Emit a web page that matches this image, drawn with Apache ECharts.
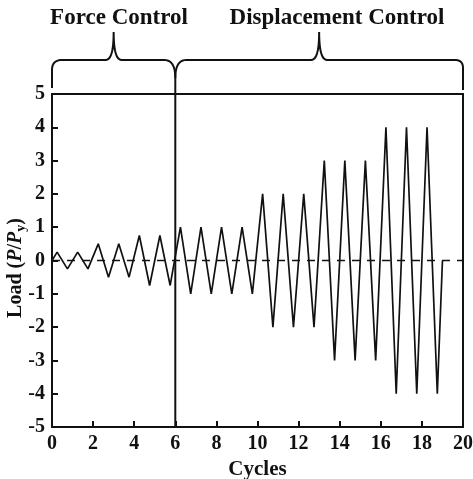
<!DOCTYPE html>
<html>
<head>
<meta charset="utf-8">
<script src="https://cdn.jsdelivr.net/npm/echarts@6/dist/echarts.min.js"></script>
<style>
  html, body { margin: 0; padding: 0; background: #fff; }
  #chart { width: 473px; height: 479px; }
</style>
</head>
<body>
<div id="chart"></div>
<script>
// Loading protocol: peak / trough times (in cycles) and normalised load P/Py
var cycleTimes = [0,
  0.25, 0.75, 1.25, 1.75,
  2.25, 2.75, 3.25, 3.75,
  4.25, 4.75, 5.25, 5.75,
  6.25, 6.75, 7.25, 7.75, 8.25, 8.75, 9.25, 9.75,
  10.25, 10.75, 11.25, 11.75, 12.25, 12.75,
  13.25, 13.75, 14.25, 14.75, 15.25, 15.75,
  16.25, 16.75, 17.25, 17.75, 18.25, 18.75,
  19];
var loadRatio = [0,
  0.25, -0.25, 0.25, -0.25,
  0.5, -0.5, 0.5, -0.5,
  0.75, -0.75, 0.75, -0.75,
  1, -1, 1, -1, 1, -1, 1, -1,
  2, -2, 2, -2, 2, -2,
  3, -3, 3, -3, 3, -3,
  4, -4, 4, -4, 4, -4,
  0];

// Zero-load reference line and the force/displacement phase divider
var zeroLine = [[0, 0], [20, 0]];
var dividerLine = [[6, -5], [6, 5]];

// Phase boundaries (cycles) and their titles
var phaseBounds = [0, 6, 20];
var phaseNames = ['Force Control', 'Displacement Control'];

var xTicks = { min: 0, max: 20, interval: 2 };
var yTicks = { min: -5, max: 5, interval: 1 };

var FONT = '"Liberation Serif", "Times New Roman", serif';
var INK = '#111';

var chart = echarts.init(document.getElementById('chart'), null, { renderer: 'canvas' });

var pts = cycleTimes.map(function (t, i) { return [t, loadRatio[i]]; });

chart.setOption({
  animation: false,
  backgroundColor: '#fff',
  grid: {
    left: 52, right: 10, top: 94, bottom: 52,
    outerBoundsMode: 'none', containLabel: false,
    show: true, borderColor: INK, borderWidth: 2, backgroundColor: 'transparent'
  },
  xAxis: {
    type: 'value', min: xTicks.min, max: xTicks.max, interval: xTicks.interval,
    name: 'Cycles', nameLocation: 'middle', nameGap: 25,
    nameTextStyle: { fontFamily: FONT, fontWeight: 'bold', fontSize: 21, color: INK },
    axisLine: { show: true, onZero: false, lineStyle: { color: INK, width: 2 } },
    axisTick: { show: true, inside: true, length: 6, lineStyle: { color: INK, width: 2 } },
    axisLabel: { fontFamily: FONT, fontWeight: 'bold', fontSize: 20, color: INK, margin: 7 },
    splitLine: { show: false }
  },
  yAxis: {
    type: 'value', min: yTicks.min, max: yTicks.max, interval: yTicks.interval,
    axisLine: { show: true, onZero: false, lineStyle: { color: INK, width: 2 } },
    axisTick: { show: true, inside: true, length: 6, lineStyle: { color: INK, width: 2 } },
    axisLabel: { fontFamily: FONT, fontWeight: 'bold', fontSize: 20, color: INK, margin: 7 },
    splitLine: { show: false }
  },
  series: [
    {
      type: 'line', data: zeroLine, showSymbol: false, silent: true, z: 2,
      lineStyle: { color: INK, width: 1.6, type: [8, 7] }
    },
    {
      type: 'line', data: dividerLine, showSymbol: false, silent: true, z: 2,
      lineStyle: { color: INK, width: 2, type: 'solid' }
    },
    {
      type: 'line', data: pts, showSymbol: false, z: 3,
      lineStyle: { color: INK, width: 1.7 }
    }
  ]
});

// Curly braces over each loading phase, plus the phase titles
function px(x) { return chart.convertToPixel({ xAxisIndex: 0 }, x); }
function quad(p0, c, p1, out) {
  for (var k = 1; k <= 12; k++) {
    var t = k / 12, u = 1 - t;
    out.push([u * u * p0[0] + 2 * u * t * c[0] + t * t * p1[0],
              u * u * p0[1] + 2 * u * t * c[1] + t * t * p1[1]]);
  }
}

var xa = px(phaseBounds[0]), xb = px(phaseBounds[1]), xc = px(phaseBounds[2]);
var m1 = (xa + xb) / 2, m2 = (xb + xc) / 2;
var yh = 60, yTip = 32, yJoin = 78;

var brace1 = [[xa, 88], [xa, 70]];
quad([xa, 70], [xa, yh], [xa + 10, yh], brace1);
brace1.push([m1 - 8, yh]);
quad([m1 - 8, yh], [m1, yh], [m1, yTip], brace1);
quad([m1, yTip], [m1, yh], [m1 + 8, yh], brace1);
brace1.push([xb - 11, yh]);
quad([xb - 11, yh], [xb, yh], [xb, yJoin], brace1);

var brace2 = [[xb, yJoin]];
quad([xb, yJoin], [xb, yh], [xb + 11, yh], brace2);
brace2.push([m2 - 8, yh]);
quad([m2 - 8, yh], [m2, yh], [m2, yTip], brace2);
quad([m2, yTip], [m2, yh], [m2 + 8, yh], brace2);
brace2.push([xc - 8, yh]);
quad([xc - 8, yh], [xc, yh], [xc, 68], brace2);
brace2.push([xc, 90]);

var braceStyle = { stroke: INK, lineWidth: 2, fill: null };

chart.setOption({
  graphic: [
    { type: 'polyline', shape: { points: brace1 }, style: braceStyle, silent: true },
    { type: 'polyline', shape: { points: brace2 }, style: braceStyle, silent: true },
    { type: 'line', shape: { x1: xb, y1: yJoin, x2: xb, y2: 95 }, style: { stroke: INK, lineWidth: 2 }, silent: true },
    { type: 'text', x: 119, y: 18, silent: true,
      style: { text: phaseNames[0], font: 'bold 23px ' + FONT, fill: INK, textAlign: 'center', textVerticalAlign: 'middle' } },
    { type: 'text', x: 337, y: 18, silent: true,
      style: { text: phaseNames[1], font: 'bold 23px ' + FONT, fill: INK, textAlign: 'center', textVerticalAlign: 'middle' } },
    { type: 'text', x: 16, y: 268, rotation: Math.PI / 2, silent: true,
      style: {
        text: '{b|Load (}{i|P}{b|/}{i|P}{s|y}{b|)}',
        textAlign: 'center', textVerticalAlign: 'middle', fill: INK,
        rich: {
          b: { fontFamily: FONT, fontWeight: 'bold', fontSize: 20, lineHeight: 24, verticalAlign: 'middle', color: INK },
          i: { fontFamily: FONT, fontWeight: 'bold', fontStyle: 'italic', fontSize: 20, lineHeight: 24, verticalAlign: 'middle', color: INK },
          s: { fontFamily: FONT, fontWeight: 'bold', fontSize: 14, lineHeight: 14, verticalAlign: 'bottom', color: INK }
        }
      } }
  ]
});
</script>
</body>
</html>
